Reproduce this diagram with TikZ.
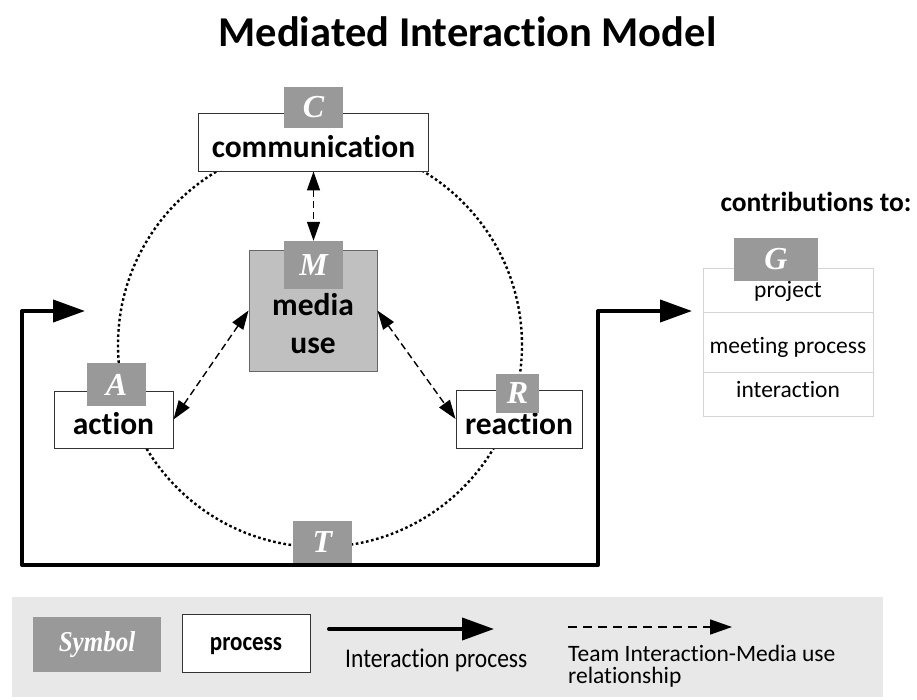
\documentclass[tikz,border=0pt]{standalone}
\usepackage{fontspec}
\setmainfont{Carlito}[Ligatures=NoCommon]
\newfontfamily\lblfont{Liberation Serif}
\usetikzlibrary{arrows.meta}
\definecolor{lblgray}{HTML}{999999}
\definecolor{mediafill}{HTML}{C0C0C0}
\definecolor{legendbg}{HTML}{E8E8E8}
\definecolor{gridline}{HTML}{D4D4D4}
% legend lettering is set slightly taller than wide
\newcommand{\tallset}[1]{\scalebox{1}[1.15]{#1}}

\begin{document}
\begin{tikzpicture}[x=1pt,y=-1pt,
  procbox/.style={draw=black!80, line width=0.9pt, fill=white, inner sep=0pt},
  tag/.style={fill=lblgray, text=white, inner sep=0pt,
    font=\lblfont\bfseries\itshape\fontsize{32}{34}\selectfont},
  proctext/.style={inner sep=0pt, anchor=base, font=\bfseries\fontsize{31.5}{38}\selectfont},
  cell/.style={draw=gridline, line width=0.8pt, fill=white, minimum width=170pt, inner sep=0pt},
  plaintext/.style={inner sep=0pt, anchor=base, font=\fontsize{23.5}{26}\selectfont},
  ring/.style={line width=2.4pt, dash pattern=on 2.6pt off 2.6pt},
  flow/.style={line width=4pt, line join=round},
  flowtip/.style={-{Triangle[length=32pt,width=22pt]}},
  medlink/.style={line width=1.4pt, dash pattern=on 7pt off 4pt,
    {Triangle[length=19pt,width=13pt]}-{Triangle[length=19pt,width=13pt]}}
]
\useasboundingbox (0,0) rectangle (917,700);

% title
\node[inner sep=0pt, anchor=base, font=\bfseries\fontsize{42.5}{50}\selectfont]
  (title) at (467.5,47) {Mediated Interaction Model};

% interaction loop (thick) with its two arrow ends
\coordinate (inTip) at (85,311);
\coordinate (c1) at (22,311);
\coordinate (c2) at (22,565);
\coordinate (c3) at (598,565);
\coordinate (c4) at (598,311);
\coordinate (outTip) at (692,311);
\draw[flow, {Triangle[length=32pt,width=22pt]}-{Triangle[length=32pt,width=22pt]}]
  (inTip) -- (c1) -- (c2) -- (c3) -- (c4) -- (outTip);

% dotted cycle
\draw[ring] (320,345) circle[radius=202pt];

% communication
\node[procbox, minimum width=230pt, minimum height=58pt] (comm) at (313.5,142) {};
\node[proctext] (commtext) at (313.5,158) {communication};
\node[tag, minimum width=59pt, minimum height=41pt] (ctag) at (313.5,107.5) {C};

% media use
\node[procbox, fill=mediafill, draw=black!60, minimum width=128pt, minimum height=121pt]
  (media) at (313,310.5) {};
\node[proctext] (mediatext1) at (313,315) {media};
\node[proctext] (mediatext2) at (313,353) {use};
\node[tag, minimum width=59pt, minimum height=48pt] (mtag) at (313.5,265) {M};

% action
\node[procbox, minimum width=119pt, minimum height=57pt] (action) at (113.5,419.5) {};
\node[proctext] (actiontext) at (113.5,434) {action};
\node[tag, minimum width=59pt, minimum height=43pt] (atag) at (116.5,384.5) {A};

% reaction
\node[procbox, minimum width=126pt, minimum height=58pt] (reaction) at (519,419) {};
\node[proctext] (reactiontext) at (519,434) {reaction};
\node[tag, minimum width=43pt, minimum height=39pt] (rtag) at (517.5,393.5) {R};

% time
\node[tag, minimum width=59pt, minimum height=42pt] (ttag) at (322.5,542) {T};

% team interaction -- media use links
\draw[medlink] (comm.south -| mtag.north) -- (mtag.north);
\draw[medlink] (media.west) -- (action.east);
\draw[medlink] (media.east) -- (reaction.west);

% contributions
\node[inner sep=0pt, anchor=base, font=\bfseries\fontsize{27.5}{30}\selectfont]
  (contrib) at (816,212) {contributions to:};
\node[cell, minimum height=44pt] (row1) at (788,290) {};
\node[cell, minimum height=60pt] (row2) at (788,342) {};
\node[cell, minimum height=44pt] (row3) at (788,394) {};
\node[tag, minimum width=84pt, minimum height=43pt] (gtag) at (776,259.5) {G};
\node[plaintext] (row1text) at (788,298) {project};
\node[plaintext] (row2text) at (788,353) {meeting process};
\node[plaintext] (row3text) at (788,397) {interaction};

% legend
\node[fill=legendbg, inner sep=0pt, minimum width=871pt, minimum height=100pt]
  (legend) at (447.5,647) {};
\node[tag, minimum width=128pt, minimum height=55pt,
  font=\lblfont\bfseries\itshape\fontsize{25}{27}\selectfont] (symtag) at (97,644.5) {\tallset{Symbol}};
\node[procbox, minimum width=128pt, minimum height=58pt] (procsample) at (246,643) {};
\node[inner sep=0pt, anchor=base, font=\bfseries\fontsize{23}{26}\selectfont]
  (proclabel) at (246,650) {\tallset{process}};
\coordinate (lgA) at (329,629);
\coordinate (lgB) at (494,629);
\draw[flow, line cap=round, flowtip] (lgA) -- (lgB);
\node[plaintext, anchor=base west] (lgAtext) at (345,667) {\tallset{Interaction process}};
\coordinate (lgC) at (568,627);
\coordinate (lgD) at (732,627);
\draw[line width=1.5pt, dash pattern=on 9pt off 6pt, -{Triangle[length=22pt,width=15pt]}] (lgC) -- (lgD);
% two-line caption: the base anchor sits on its last line
\node[inner sep=0pt, anchor=base west, align=left, font=\fontsize{23.5}{22.5}\selectfont]
  (lgCtext) at (568,683.5) {Team Interaction-Media use\\relationship};
\end{tikzpicture}
\end{document}
